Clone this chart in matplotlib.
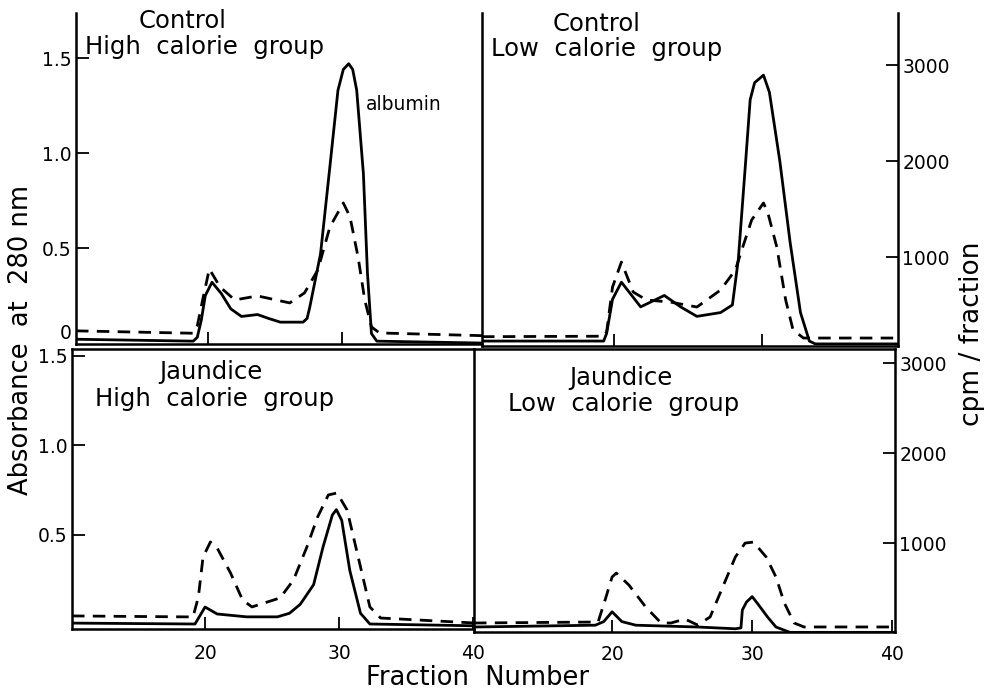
import numpy as np
import matplotlib
matplotlib.use("Agg")
import matplotlib.pyplot as plt

# ---- data (fraction number vs absorbance / cpm) ----
# Control, high calorie
ctl_hi_x = [10.15, 18.9, 19.2, 19.5, 19.8, 20.3, 21.0, 21.7, 22.5, 23.7, 24.5, 25.4, 27.1, 27.4,
            27.6, 28.4, 29.1, 29.7, 30.1, 30.5, 30.8, 31.1, 31.6, 31.9, 32.2, 32.6, 40.45]
ctl_hi_abs = [0.02, 0.01, 0.03, 0.12, 0.25, 0.32, 0.26, 0.18, 0.14, 0.15, 0.13, 0.11, 0.11, 0.13,
              0.19, 0.47, 0.93, 1.33, 1.44, 1.47, 1.44, 1.33, 0.89, 0.37, 0.05, 0.01, 0.0]
ctl_hi_cx = [10.15, 18.9, 19.2, 19.6, 20.1, 20.9, 22.0, 23.7, 26.1, 27.2, 28.2, 29.1, 30.1,
             30.6, 31.2, 31.7, 32.2, 32.8, 40.45]
ctl_hi_cpm = [230, 205, 280, 552, 875, 687, 552, 594, 521, 625, 865, 1313, 1563,
              1417, 1000, 552, 271, 208, 180]

# Control, low calorie
ctl_lo_x = [11.08, 19.3, 19.5, 19.9, 20.5, 21.2, 21.8, 22.6, 23.4, 24.5, 25.6, 27.2, 28.0,
            28.4, 28.9, 29.2, 29.5, 30.1, 30.5, 31.2, 31.9, 32.6, 33.2, 33.6, 39.19]
ctl_lo_abs = [0.01, 0.01, 0.05, 0.23, 0.32, 0.25, 0.19, 0.22, 0.25, 0.19, 0.14, 0.16, 0.20,
              0.44, 0.96, 1.28, 1.37, 1.41, 1.32, 0.96, 0.53, 0.16, 0.01, -0.005, -0.005]
ctl_lo_cx = [11.08, 19.3, 19.5, 19.9, 20.5, 21.3, 22.2, 23.8, 25.6, 27.2, 28.2, 28.7, 29.3,
             30.1, 30.4, 31.0, 31.6, 32.1, 32.8, 39.19]
ctl_lo_cpm = [170, 175, 219, 687, 948, 635, 552, 531, 479, 656, 865, 1104, 1385,
              1563, 1458, 1104, 552, 240, 156, 156]

# Jaundice, high calorie
jd_hi_x = [10.07, 19.25, 20.0, 20.9, 23.1, 25.4, 26.3, 27.1, 28.1, 28.8, 29.5, 29.8, 30.2,
           30.8, 31.6, 32.3, 40.07]
jd_hi_abs = [0.005, 0.0, 0.095, 0.056, 0.04, 0.04, 0.06, 0.11, 0.22, 0.43, 0.61, 0.64, 0.58,
             0.30, 0.06, 0.0, -0.01]
jd_hi_cx = [10.07, 19.1, 19.5, 19.85, 20.4, 20.9, 21.9, 22.8, 23.5, 25.6, 26.6, 27.6, 28.4,
            29.2, 29.85, 30.6, 31.6, 32.3, 33.1, 40.07]
jd_hi_cpm = [190, 179, 400, 845, 1011, 945, 667, 367, 290, 390, 589, 956, 1289,
             1533, 1555, 1366, 734, 290, 167, 112]

# Jaundice, low calorie
jd_lo_x = [10.14, 18.8, 19.4, 20.0, 20.7, 21.7, 26.1, 28.8, 29.2, 29.3, 29.6, 30.0, 30.4,
           31.1, 31.7, 32.7, 40.2]
jd_lo_abs = [0.0, 0.01, 0.03, 0.085, 0.03, 0.01, 0.0, -0.01, -0.005, 0.095, 0.14, 0.17, 0.13,
             0.056, 0.0, -0.03, -0.03]
jd_lo_cx = [10.14, 19.0, 19.5, 20.0, 20.3, 21.2, 22.4, 23.5, 24.2, 25.2, 26.1, 27.0, 27.9,
            28.8, 29.5, 30.1, 31.0, 31.7, 32.3, 33.0, 33.7, 40.2]
jd_lo_cpm = [112, 123, 367, 623, 667, 534, 290, 112, 112, 156, 90, 179, 512,
             845, 1000, 1011, 845, 623, 334, 112, 68, 68]

W, H = 984, 691
fig = plt.figure(figsize=(W / 100, H / 100), dpi=100)
plt.rcParams['font.family'] = ['DejaVu Sans']

LW = 2.0
SP = 1.8
TFS = 17.5  # panel title size


def panel(px0, px1, py0, py1, xlim, ylim, clim):
    ax = fig.add_axes([px0 / W, 1 - py1 / H, (px1 - px0) / W, (py1 - py0) / H])
    ax.set_xlim(*xlim)
    ax.set_ylim(*ylim)
    ax2 = ax.twinx()
    ax2.set_ylim(*clim)
    for a in (ax, ax2):
        a.patch.set_visible(False)
        for s in a.spines.values():
            s.set_linewidth(SP)
            s.set_visible(False)
    ax.tick_params(direction='in', length=9, width=1.3, labelsize=13.5, pad=3)
    ax2.tick_params(direction='in', length=9, width=1.3, labelsize=13.5, pad=3)
    ax.set_xticks([20, 30])
    ax.set_xticklabels([])
    ax.set_yticks([])
    ax2.set_yticks([])
    return ax, ax2


def draw(ax, ax2, x, a, cx, c):
    ax.plot(x, a, color='black', lw=LW, solid_joinstyle='round')
    ax2.plot(cx, c, color='black', lw=LW, ls=(0, (4.5, 3)))


def ptext(x, y, s, **kw):
    # place text by pixel position (from top-left)
    fig.text(x / W, 1 - y / H, s, **kw)


# top left
ax, ax2 = panel(76, 482, 13, 344, (10.15, 40.45), (-0.005, 1.737), (93, 3542))
ax.spines['left'].set_visible(True)
ax.spines['bottom'].set_visible(True)
ax.set_yticks([0.5, 1.0, 1.5])
ax.set_yticklabels(['0.5', '1.0', '1.5'])
draw(ax, ax2, ctl_hi_x, ctl_hi_abs, ctl_hi_cx, ctl_hi_cpm)
ptext(66, 334, '0', ha='center', va='center', fontsize=13.5)
ptext(183, 9, 'Control', ha='center', va='top', fontsize=TFS)
ptext(205, 35, 'High  calorie  group', ha='center', va='top', fontsize=TFS)
ptext(366, 104, 'albumin', ha='left', va='center', fontsize=13.5)

# top right
ax, ax2 = panel(482, 898, 13, 346, (11.08, 39.19), (-0.016, 1.737), (73, 3542))
ax.spines['left'].set_visible(True)
ax.spines['bottom'].set_visible(True)
ax2.spines['right'].set_visible(True)
ax2.set_yticks([1000, 2000, 3000])
draw(ax, ax2, ctl_lo_x, ctl_lo_abs, ctl_lo_cx, ctl_lo_cpm)
ptext(597, 12, 'Control', ha='center', va='top', fontsize=TFS)
ptext(607, 37, 'Low  calorie  group', ha='center', va='top', fontsize=TFS)

# bottom left
ax, ax2 = panel(72, 474, 349, 629, (10.07, 40.07), (-0.028, 1.539), (45, 3153))
for s in ('left', 'bottom', 'top'):
    ax.spines[s].set_visible(True)
ax.set_yticks([0.5, 1.0, 1.5])
ax.set_yticklabels(['0.5', '1.0', '1.5'])
ax.set_xticks([20, 30, 40])
ax.set_xticklabels(['20', '30', '40'])
ax.tick_params(axis='x', pad=11)
draw(ax, ax2, jd_hi_x, jd_hi_abs, jd_hi_cx, jd_hi_cpm)
ptext(211, 360, 'Jaundice', ha='center', va='top', fontsize=TFS)
ptext(215, 387, 'High  calorie  group', ha='center', va='top', fontsize=TFS)

# bottom right
ax, ax2 = panel(474, 895, 349, 632, (10.14, 40.2), (-0.028, 1.556), (12, 3156))
for s in ('left', 'bottom', 'top'):
    ax.spines[s].set_visible(True)
ax2.spines['right'].set_visible(True)
ax2.set_yticks([1000, 2000, 3000])
ax.set_xticks([20, 30, 40])
ax.set_xticklabels(['20', '30', '40'])
ax.tick_params(axis='x', pad=9)
draw(ax, ax2, jd_lo_x, jd_lo_abs, jd_lo_cx, jd_lo_cpm)
ptext(621, 366, 'Jaundice', ha='center', va='top', fontsize=TFS)
ptext(624, 392, 'Low  calorie  group', ha='center', va='top', fontsize=TFS)

# shared labels
ptext(478, 678, 'Fraction  Number', ha='center', va='center', fontsize=18.5)
ptext(21, 340, 'Absorbance  at  280 nm', ha='center', va='center',
      rotation=90, fontsize=18.5)
ptext(972, 334, 'cpm / fraction', ha='center', va='center',
      rotation=90, fontsize=19)

fig.savefig('out.png', dpi=100, facecolor='white')
